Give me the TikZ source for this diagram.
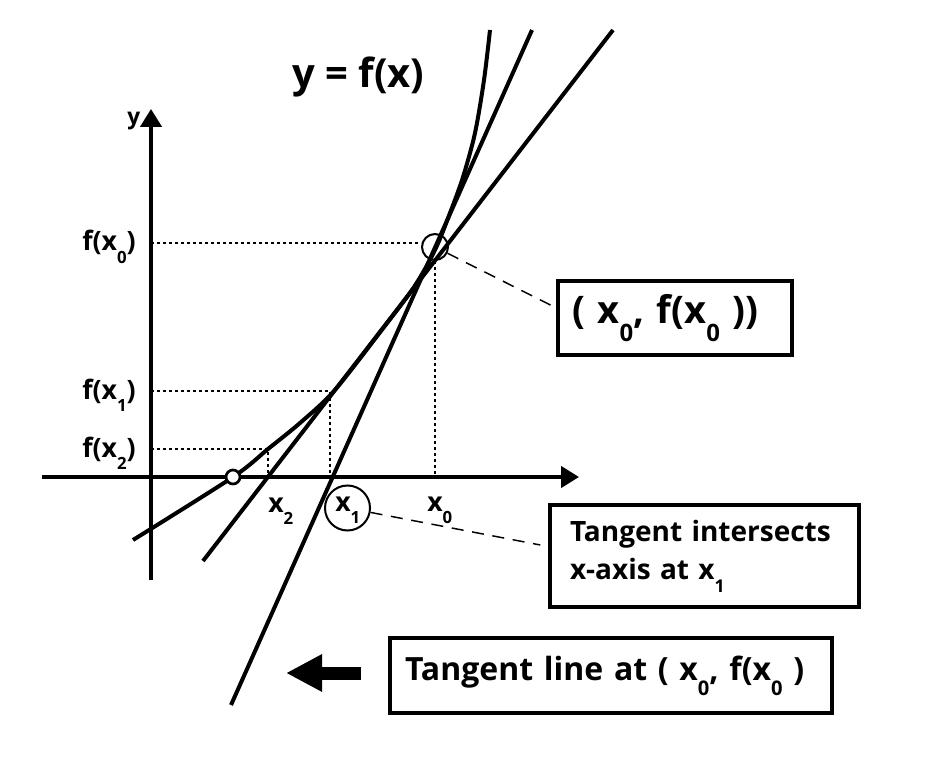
\documentclass[tikz,border=0pt]{standalone}
\usepackage{fontspec}
\setmainfont{Open Sans}
\usetikzlibrary{arrows.meta,calc}
\newcommand\sbs[1]{\raisebox{-0.46em}{\scalebox{0.63}{#1}}}
\begin{document}
\begin{tikzpicture}[x=0.75pt,y=-0.75pt,font=\bfseries,
  axis/.style={line width=2.6pt,-{Triangle[length=13.5pt,width=16pt]}},
  crv/.style={line width=3pt},
  guide/.style={line width=0.9pt,dash pattern=on 2.5pt off 2pt},
  leader/.style={line width=1.1pt,dash pattern=on 9pt off 6.5pt},
  box/.style={draw,line width=2.5pt,align=left,anchor=center,inner ysep=0pt},
  lbl/.style={inner sep=0pt,font=\bfseries\fontsize{20pt}{24pt}\selectfont}]
\useasboundingbox (0,0) rectangle (930,762);
% axes
\coordinate (xs) at (42,477);
\coordinate (xe) at (579,477);
\coordinate (ys) at (151,580);
\coordinate (ye) at (151,109);
\draw[axis] (xs) -- (xe);
\draw[axis] (ys) -- (ye);
\node[lbl,anchor=base west,font=\bfseries\fontsize{17pt}{20pt}\selectfont] (ylab) at (127,125) {y};
% guides
\node[circle,draw,line width=1.5pt,minimum size=19.5pt,inner sep=0pt] (c0) at (435,247) {};
\draw[guide] (151,243) -- (c0.west |- 0,243);
\draw[guide] (c0.south) -- (435,477);
\draw[guide] (151,391) -- (330,391) -- (330,477);
\draw[guide] (151,449) -- (268,449) -- (268,477);
% curve and tangent lines
\draw[crv] plot[smooth,tension=0.5] coordinates {(133,540) (233,477) (268,449) (300,423) (334,391) (381,331) (414,287) (435,250) (450,213) (463,177) (475,133) (484,80) (490,30)};
\draw[crv] (231,705) -- (532,30);
\draw[crv] (203,561) -- (613,30);
\node[circle,draw,fill=white,line width=2pt,minimum size=10.5pt,inner sep=0pt] (root) at (233,477) {};
% axis labels
\node[lbl,anchor=base west] (fx0) at (82,251) {f(x\sbs{0})};
\node[lbl,anchor=base west] (fx1) at (82,399) {f(x\sbs{1})};
\node[lbl,anchor=base west] (fx2) at (82,457) {f(x\sbs{2})};
\node[lbl,anchor=base west] (x2) at (268,512) {x\sbs{2}};
\node[lbl,anchor=base west] (x0) at (427,511) {x\sbs{0}};
\node[circle,draw,line width=1.5pt,minimum size=33.75pt,inner sep=0pt] (x1) at (347.5,508) {};
\node[lbl,anchor=base west] (x1t) at (335,511) {x\sbs{1}};
\node[anchor=base west,inner sep=0pt,font=\bfseries\fontsize{30pt}{34pt}\selectfont] (title) at (292,88) {y = f(x)};
% boxes
\node[box,minimum width=175.5pt,minimum height=55.5pt,text width=154.5pt,inner xsep=10.5pt,
  font=\bfseries\fontsize{28.5pt}{32pt}\selectfont] (b1) at (675,318) {( x\sbs{0}, f(x\sbs{0} ))};
\node[box,minimum width=231.75pt,minimum height=76.5pt,text width=201.75pt,inner xsep=15pt,
  font=\bfseries\fontsize{21pt}{28.5pt}\selectfont] (b2) at (704.5,556) {Tangent intersects\\x-axis at x\sbs{1}};
\node[box,minimum width=331.5pt,minimum height=56.25pt,text width=309pt,inner xsep=11.25pt,
  font=\bfseries\fontsize{24pt}{28pt}\selectfont] (b3) at (611,675.5) {Tangent line at ( x\sbs{0}, f(x\sbs{0} )};
% leaders
\draw[leader] (c0) -- ($(b1.west)+(0,-10)$);
\draw[leader] (x1) -- ($(b2.west)+(-8,-11)$);
% thick arrow
\coordinate (as) at (361,673);
\coordinate (ae) at (286,673);
\draw[line width=9.75pt,-{Triangle[length=27pt,width=26.25pt]}] (as) -- (ae);
\end{tikzpicture}
\end{document}
